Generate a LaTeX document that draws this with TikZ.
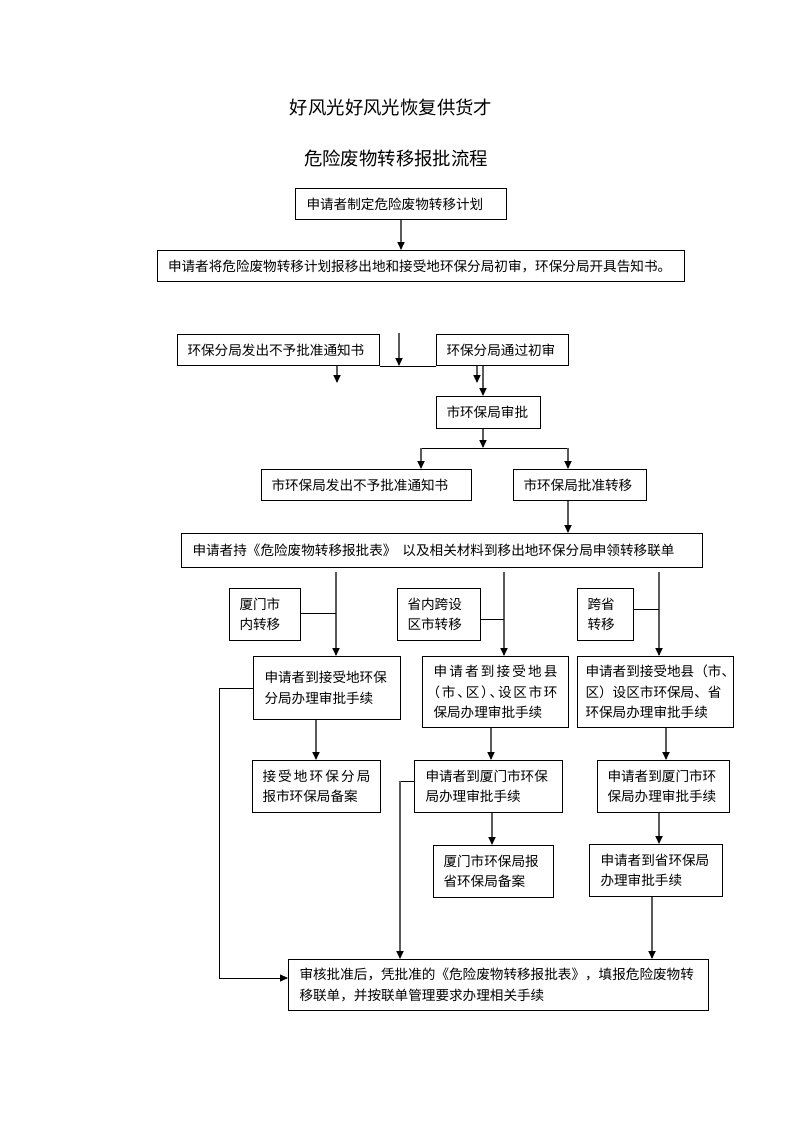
\documentclass[tikz,border=0pt]{standalone}
\usepackage{fontspec}
\setmainfont{Noto Sans CJK SC}
\newfontfamily\halffont{Noto Sans CJK SC}[RawFeature=+halt]
\usetikzlibrary{arrows.meta}
\definecolor{arrgray}{RGB}{90,90,90}
\newcommand\spreadit[1]{\leavevmode\hbox to\linewidth{\spreadloop#1\relax}}
\def\spreadloop#1{\ifx#1\relax\else#1\expandafter\spreadnext\fi}
\def\spreadnext#1{\ifx#1\relax\else\hfil#1\expandafter\spreadnext\fi}
\tikzset{
  box/.style={draw=black, line width=1pt, inner xsep=10pt, inner ysep=0pt,
    anchor=north west, align=left, font=\fontsize{13.6}{20.5}\selectfont},
  garrow/.style={draw=arrgray, line width=1.6pt, -{Triangle[length=8pt,width=7pt,color=black]}},
  thinline/.style={draw=black, line width=0.9pt},
  tharrow/.style={thinline, -{Triangle[length=8pt,width=7pt,color=black]}},
  titletext/.style={font=\fontsize{18.4}{22}\selectfont, inner sep=0pt},
}
\begin{document}
\begin{tikzpicture}[x=1pt,y=-1pt]
\fill[white] (0,0) rectangle (793,1122);
\useasboundingbox (0,0) rectangle (793,1122);

% titles
\node[titletext] (title1) at (391,107) {好风光好风光恢复供货才};
\node[titletext] (title2) at (396,158) {危险废物转移报批流程};

% boxes
\node[box, inner xsep=11pt, minimum width=211pt, text width=189pt, minimum height=31pt] (b1) at (295,188) {申请者制定危险废物转移计划};
\node[box, inner xsep=10.5pt, minimum width=527pt, text width=506pt, minimum height=31pt] (b2) at (157,250) {申请者将危险废物转移计划报移出地和接受地环保分局初审，环保分局开具告知书。};
\node[box, minimum width=202pt, text width=182pt, minimum height=31pt] (b3a) at (177,334) {环保分局发出不予批准通知书};
\node[box, minimum width=132pt, text width=112pt, minimum height=31pt] (b3b) at (436,334) {环保分局通过初审};
\node[box, minimum width=104pt, text width=84pt, minimum height=32pt] (b4) at (436,396) {市环保局审批};
\node[box, minimum width=210pt, text width=190pt, minimum height=31pt] (b5a) at (261,469) {市环保局发出不予批准通知书};
\node[box, minimum width=133pt, text width=113pt, minimum height=31pt] (b5b) at (513,469) {市环保局批准转移};
\node[box, inner xsep=11pt, minimum width=521pt, text width=499pt, minimum height=34pt] (b6) at (181,533) {申请者持《危险废物转移报批表》\hspace{6pt}以及相关材料到移出地环保分局申领转移联单};

\node[box, minimum width=71pt, text width=51pt, minimum height=52pt] (s1) at (229,588) {厦门市\\内转移};
\node[box, minimum width=83pt, text width=63pt, minimum height=52pt] (s2) at (397,588) {省内跨设\\区市转移};
\node[box, minimum width=56pt, text width=36pt, minimum height=52pt] (s3) at (577,588) {跨省\\转移};

\node[box, inner xsep=11pt, minimum width=147pt, text width=125pt, minimum height=63pt] (l1) at (253,656) {申请者到接受地环保\\分局办理审批手续};
\node[box, inner xsep=11pt, minimum width=146pt, text width=124pt, minimum height=71pt] (m1) at (422,656) {\spreadit{申请者到接受地县}\\{\halffont\spreadit{（市、区）、设区市环}}\\保局办理审批手续};
\node[box, inner xsep=8pt, minimum width=156pt, text width=140pt, minimum height=71pt] (r1) at (577,656) {申请者到接受地县（市、\\区）设区市环保局、省\\环保局办理审批手续};

\node[box, minimum width=128pt, text width=108pt, minimum height=52pt] (l2) at (252,760) {\spreadit{接受地环保分局}\\报市环保局备案};
\node[box, inner xsep=11pt, minimum width=148pt, text width=126pt, minimum height=52pt] (m2) at (414,760) {申请者到厦门市环保\\局办理审批手续};
\node[box, minimum width=132pt, text width=112pt, minimum height=52pt] (r2) at (597,760) {申请者到厦门市环\\保局办理审批手续};
\node[box, minimum width=120pt, text width=100pt, minimum height=52pt] (m3) at (433,845) {厦门市环保局报\\省环保局备案};
\node[box, inner xsep=11pt, minimum width=133pt, text width=111pt, minimum height=52pt] (r3) at (589,844) {申请者到省环保局\\办理审批手续};

\node[box, inner xsep=11pt, minimum width=420pt, text width=398pt, minimum height=51pt] (f) at (288,959) {审核批准后，凭批准的《危险废物转移报批表》，填报危险废物转\\移联单，并按联单管理要求办理相关手续};

% helper coordinates
\coordinate (ta) at (399,333);
\coordinate (tb) at (337,383);
\coordinate (tc) at (477,383);
\coordinate (x483) at (483,0);
\coordinate (sp) at (483,448);
\coordinate (spl) at (421,448);
\coordinate (spr) at (568,448);
\coordinate (c1) at (336,572);
\coordinate (c2) at (504,572);
\coordinate (c3) at (659,572);
\coordinate (j1) at (336,613);
\coordinate (j2) at (504,619);
\coordinate (j3) at (659,609);
\coordinate (k1) at (219,688);
\coordinate (k2) at (219,978);
\coordinate (k3) at (400,781);
\coordinate (x316) at (316,0);
\coordinate (x491) at (491,0);
\coordinate (x492) at (492,0);
\coordinate (x666) at (666,0);
\coordinate (x659) at (659,0);
\coordinate (x652) at (652,0);

% connectors
\draw[garrow] (b1.south) -- (b1.south |- b2.north);
\draw[thinline] (b3a.south east) -- (b3b.south west);
\draw[garrow] (ta) -- (ta |- b3a.south);
\draw[garrow] (tb |- b3a.south) -- (tb);
\draw[garrow] (tc |- b3b.south) -- (tc);
\draw[garrow] (b3b.south -| x483) -- (b4.north -| x483);
\draw[garrow] (b4.south -| sp) -- (sp);
\draw[thinline] (spl) -- (spr);
\draw[garrow] (spl) -- (spl |- b5a.north);
\draw[garrow] (spr) -- (spr |- b5b.north);
\draw[garrow] (b5b.south -| spr) -- (b6.north -| spr);

\draw[garrow] (c1) -- (c1 |- l1.north);
\draw[garrow] (c2) -- (c2 |- m1.north);
\draw[garrow] (c3) -- (c3 |- r1.north);
\draw[thinline] (s1.east |- j1) -- (j1);
\draw[thinline] (s2.east |- j2) -- (j2);
\draw[thinline] (s3.east |- j3) -- (j3);

\draw[tharrow] (l1.west |- k1) -- (k1) -- (k2) -- (k2 -| f.west);
\draw[garrow] (l1.south -| x316) -- (l2.north -| x316);
\draw[garrow] (m1.south -| x491) -- (m2.north -| x491);
\draw[garrow] (m2.south -| x492) -- (m3.north -| x492);
\draw[thinline] (m2.west |- k3) -- (k3);
\draw[garrow] (k3) -- (k3 |- f.north);
\draw[garrow] (r1.south -| x666) -- (r2.north -| x666);
\draw[garrow] (r2.south -| x659) -- (r3.north -| x659);
\draw[garrow] (r3.south -| x652) -- (f.north -| x652);
\end{tikzpicture}
\end{document}
